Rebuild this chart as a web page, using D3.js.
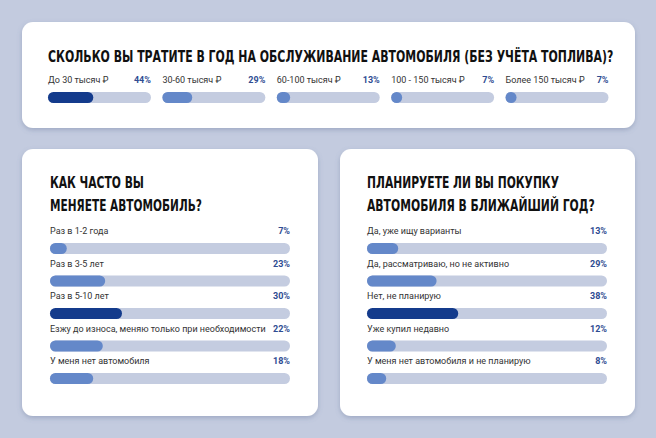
<!DOCTYPE html>
<html><head><meta charset="utf-8">
<script src="https://cdn.jsdelivr.net/npm/d3@7"></script>
<style>
html,body{margin:0;padding:0;background:#c3cbdf;}
svg{display:block;}
</style></head><body>
<script>
const q1Title = "СКОЛЬКО ВЫ ТРАТИТЕ В ГОД НА ОБСЛУЖИВАНИЕ АВТОМОБИЛЯ (БЕЗ УЧЁТА ТОПЛИВА)?";
const q1Labels = ["До 30 тысяч ₽","30-60 тысяч ₽","60-100 тысяч ₽","100 - 150 тысяч ₽","Более 150 тысяч ₽"];
const q1Values = [44,29,13,7,7];

const q2Title = ["КАК ЧАСТО ВЫ","МЕНЯЕТЕ АВТОМОБИЛЬ?"];
const q2Labels = ["Раз в 1-2 года","Раз в 3-5 лет","Раз в 5-10 лет","Езжу до износа, меняю только при необходимости","У меня нет автомобиля"];
const q2Values = [7,23,30,22,18];

const q3Title = ["ПЛАНИРУЕТЕ ЛИ ВЫ ПОКУПКУ","АВТОМОБИЛЯ В БЛИЖАЙШИЙ ГОД?"];
const q3Labels = ["Да, уже ищу варианты","Да, рассматриваю, но не активно","Нет, не планирую","Уже купил недавно","У меня нет автомобиля и не планирую"];
const q3Values = [13,29,38,12,8];

const W=656,H=438;
const C={dark:"#143b8c",light:"#6488c9",track:"#c4cce0",pct:"#2e4c92",label:"#333",title:"#111"};
const titleFont="'DejaVu Sans Condensed','Liberation Sans Narrow',sans-serif";
const bodyFont="Roboto,'Noto Sans',sans-serif";
const FS=9;

const svg=d3.select("body").append("svg").attr("width",W).attr("height",H);
const defs=svg.append("defs");
const f=defs.append("filter").attr("id","sh").attr("x","-10%").attr("y","-10%").attr("width","120%").attr("height","130%");
f.append("feDropShadow").attr("dx",0).attr("dy",2).attr("stdDeviation",2.5).attr("flood-color","#5a6b90").attr("flood-opacity",0.35);

function card(x,y,w,h){
  svg.append("rect").attr("x",x).attr("y",y).attr("width",w).attr("height",h).attr("rx",11).attr("fill","#fff").attr("filter","url(#sh)");
}
card(22,22,613,106);
card(22,149,296,267);
card(340,149,295,267);

function bar(g,x,y,w,h,val,dark){
  const s=d3.scaleLinear().domain([0,100]).range([0,w]);
  g.append("rect").attr("x",x).attr("y",y).attr("width",w).attr("height",h).attr("rx",h/2).attr("fill",C.track);
  g.append("rect").attr("x",x).attr("y",y).attr("width",Math.max(h,s(val))).attr("height",h).attr("rx",h/2).attr("fill",dark?C.dark:C.light);
}

// condensed title: natural text squeezed horizontally to target width
function title(x,y,str,size,targetW){
  const g=svg.append("g");
  const t=g.append("text").attr("x",0).attr("y",0).text(str)
    .attr("font-family",titleFont).attr("font-weight","bold").attr("font-size",size).attr("fill",C.title);
  const nat=t.node().getComputedTextLength();
  g.attr("transform",`translate(${x},${y}) scale(${targetW/nat},1)`);
}

// Top card
title(48,62,q1Title,15,566);
const topX=d3.scaleBand().domain(d3.range(q1Values.length)).range([48,608.5]).paddingInner(0.1);
const maxQ1=d3.max(q1Values);
q1Values.forEach((v,i)=>{
  const x=topX(i), w=topX.bandwidth();
  svg.append("text").attr("x",x).attr("y",83).text(q1Labels[i])
    .attr("font-family",bodyFont).attr("font-size",FS).attr("fill",C.label);
  svg.append("text").attr("x",x+w).attr("y",83).attr("text-anchor","end").text(v+"%")
    .attr("font-family",bodyFont).attr("font-weight","bold").attr("font-size",FS).attr("fill",C.pct);
  bar(svg,x,92,w,11,v,v===maxQ1);
});

function panel(x0,trackW,titleLines,titleWidths,labels,values){
  titleLines.forEach((t,i)=>title(x0,188+i*23,t,15.5,titleWidths[i]));
  const y=d3.scalePoint().domain(d3.range(values.length)).range([234,364]);
  const mx=d3.max(values);
  values.forEach((v,i)=>{
    const by=y(i);
    svg.append("text").attr("x",x0).attr("y",by).text(labels[i])
      .attr("font-family",bodyFont).attr("font-size",FS).attr("fill",C.label);
    svg.append("text").attr("x",x0+trackW).attr("y",by).attr("text-anchor","end").text(v+"%")
      .attr("font-family",bodyFont).attr("font-weight","bold").attr("font-size",FS).attr("fill",C.pct);
    bar(svg,x0,by+9,trackW,11,v,v===mx);
  });
}
panel(50,240,q2Title,[94,152],q2Labels,q2Values);
panel(367,240,q3Title,[192,228],q3Labels,q3Values);
</script>
</body></html>
